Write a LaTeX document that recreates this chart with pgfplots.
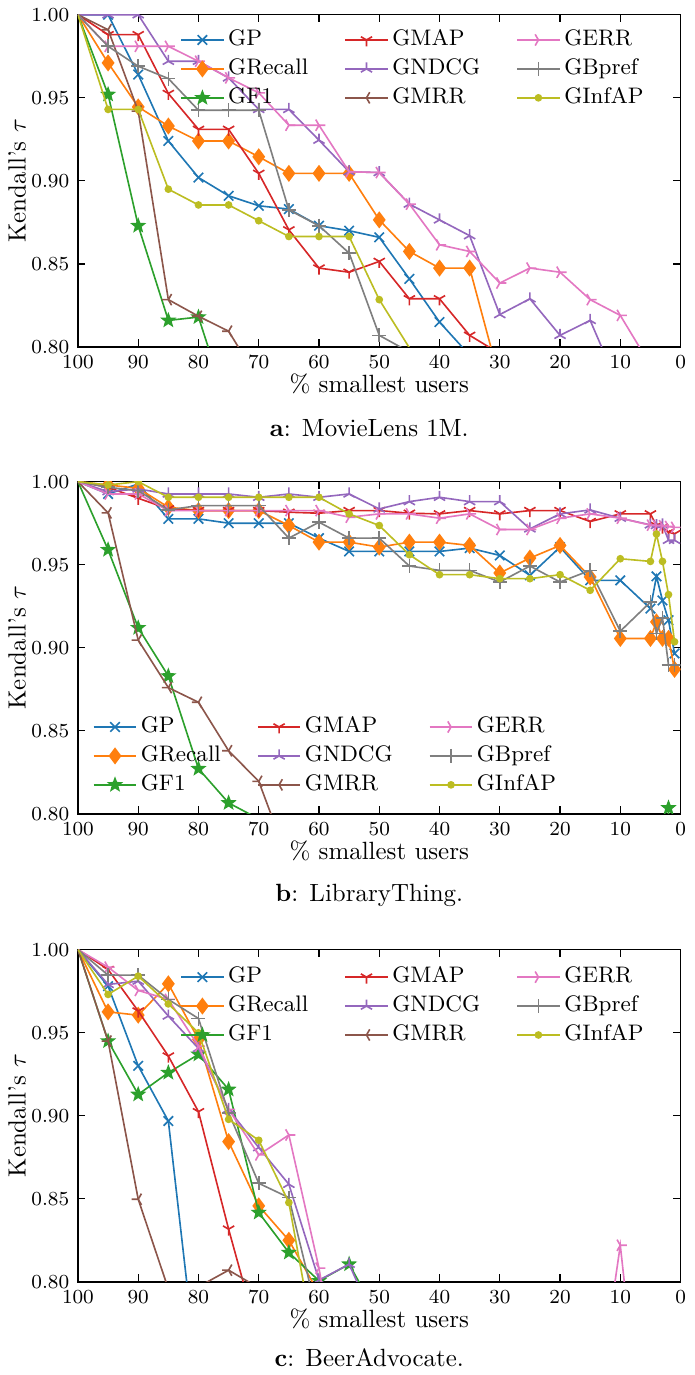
\documentclass[border=0pt]{standalone}
\usepackage{pgfplots}
\pgfplotsset{compat=1.18}
\usetikzlibrary{plotmarks}
\definecolor{cGP}{HTML}{1F77B4}
\definecolor{cGRecall}{HTML}{FF7F0E}
\definecolor{cGF1}{HTML}{2CA02C}
\definecolor{cGMAP}{HTML}{D62728}
\definecolor{cGNDCG}{HTML}{9467BD}
\definecolor{cGMRR}{HTML}{8C564B}
\definecolor{cGERR}{HTML}{E377C2}
\definecolor{cGBpref}{HTML}{7F7F7F}
\definecolor{cGInfAP}{HTML}{BCBD22}
\pgfdeclareplotmark{tridown}{%
  \pgfpathmoveto{\pgfqpoint{0pt}{0pt}}\pgfpathlineto{\pgfqpoint{0pt}{-\pgfplotmarksize}}%
  \pgfpathmoveto{\pgfqpoint{0pt}{0pt}}\pgfpathlineto{\pgfqpoint{0.866\pgfplotmarksize}{0.5\pgfplotmarksize}}%
  \pgfpathmoveto{\pgfqpoint{0pt}{0pt}}\pgfpathlineto{\pgfqpoint{-0.866\pgfplotmarksize}{0.5\pgfplotmarksize}}%
  \pgfusepathqstroke}
\pgfdeclareplotmark{triup}{%
  \pgfpathmoveto{\pgfqpoint{0pt}{0pt}}\pgfpathlineto{\pgfqpoint{0pt}{\pgfplotmarksize}}%
  \pgfpathmoveto{\pgfqpoint{0pt}{0pt}}\pgfpathlineto{\pgfqpoint{0.866\pgfplotmarksize}{-0.5\pgfplotmarksize}}%
  \pgfpathmoveto{\pgfqpoint{0pt}{0pt}}\pgfpathlineto{\pgfqpoint{-0.866\pgfplotmarksize}{-0.5\pgfplotmarksize}}%
  \pgfusepathqstroke}
\pgfdeclareplotmark{trileft}{%
  \pgfpathmoveto{\pgfqpoint{0pt}{0pt}}\pgfpathlineto{\pgfqpoint{-\pgfplotmarksize}{0pt}}%
  \pgfpathmoveto{\pgfqpoint{0pt}{0pt}}\pgfpathlineto{\pgfqpoint{0.5\pgfplotmarksize}{0.866\pgfplotmarksize}}%
  \pgfpathmoveto{\pgfqpoint{0pt}{0pt}}\pgfpathlineto{\pgfqpoint{0.5\pgfplotmarksize}{-0.866\pgfplotmarksize}}%
  \pgfusepathqstroke}
\pgfdeclareplotmark{triright}{%
  \pgfpathmoveto{\pgfqpoint{0pt}{0pt}}\pgfpathlineto{\pgfqpoint{\pgfplotmarksize}{0pt}}%
  \pgfpathmoveto{\pgfqpoint{0pt}{0pt}}\pgfpathlineto{\pgfqpoint{-0.5\pgfplotmarksize}{0.866\pgfplotmarksize}}%
  \pgfpathmoveto{\pgfqpoint{0pt}{0pt}}\pgfpathlineto{\pgfqpoint{-0.5\pgfplotmarksize}{-0.866\pgfplotmarksize}}%
  \pgfusepathqstroke}
\pgfdeclareplotmark{fstar}{%
  \pgfpathmoveto{\pgfpointpolar{90}{\pgfplotmarksize}}%
  \pgfpathlineto{\pgfpointpolar{126}{0.42\pgfplotmarksize}}%
  \pgfpathlineto{\pgfpointpolar{162}{\pgfplotmarksize}}%
  \pgfpathlineto{\pgfpointpolar{198}{0.42\pgfplotmarksize}}%
  \pgfpathlineto{\pgfpointpolar{234}{\pgfplotmarksize}}%
  \pgfpathlineto{\pgfpointpolar{270}{0.42\pgfplotmarksize}}%
  \pgfpathlineto{\pgfpointpolar{306}{\pgfplotmarksize}}%
  \pgfpathlineto{\pgfpointpolar{342}{0.42\pgfplotmarksize}}%
  \pgfpathlineto{\pgfpointpolar{18}{\pgfplotmarksize}}%
  \pgfpathlineto{\pgfpointpolar{54}{0.42\pgfplotmarksize}}%
  \pgfpathclose\pgfusepathqfillstroke}
\pgfplotsset{
  sGP/.style={color=cGP, mark=x, mark size=2.7pt},
  sGRecall/.style={color=cGRecall, mark=diamond*, mark size=2.9pt},
  sGF1/.style={color=cGF1, mark=fstar, mark size=2.5pt},
  sGMAP/.style={color=cGMAP, mark=tridown, mark size=2.6pt},
  sGNDCG/.style={color=cGNDCG, mark=triup, mark size=2.6pt},
  sGMRR/.style={color=cGMRR, mark=trileft, mark size=2.6pt},
  sGERR/.style={color=cGERR, mark=triright, mark size=2.6pt},
  sGBpref/.style={color=cGBpref, mark=+, mark size=2.8pt},
  sGInfAP/.style={color=cGInfAP, mark=*, mark size=1.2pt},
  kt/.style={
    width=241.6pt, height=133.2pt, scale only axis,
    xmin=0, xmax=100, ymin=0.8, ymax=1.0, x dir=reverse,
    xtick={0,10,20,30,40,50,60,70,80,90,100},
    ytick={0.80,0.85,0.90,0.95,1.00},
    yticklabel style={/pgf/number format/.cd, fixed, fixed zerofill, precision=2},
    tick label style={font=\footnotesize},
    tick align=inside, major tick length=3pt,
    axis line style={line width=0.6pt},
    every tick/.style={black, line width=0.5pt},
    clip marker paths=true,
    every axis plot/.append style={line width=0.65pt, mark phase=2, mark repeat=1, mark options={solid}},
    ylabel={Kendall's $\tau$},
    ylabel style={at={(axis description cs:-0.101,0.5)}, anchor=center},
    xlabel={\% smallest users},
    xlabel style={at={(axis description cs:0.5,-0.111)}, anchor=center},
    legend columns=3, transpose legend,
    legend cell align=left,
    legend style={draw=none, fill=none, font=\small, inner sep=0pt, row sep=1.1pt,
      nodes={inner sep=1.5pt, text height=6pt, text depth=1.5pt},
      /tikz/every even column/.append style={column sep=13pt}},
  },
}
\begin{document}
\begin{tikzpicture}
% ---------------- (a) MovieLens 1M ----------------
\begin{axis}[kt, name=a, at={(0pt,0pt)}, anchor=north west,
  legend style={at={(0.169,0.965)}, anchor=north west}]
\addplot[sGP] coordinates {(100,1)(95,1.0)(90,0.964)(85,0.924)(80,0.902)(75,0.891)(70,0.885)(65,0.883)(60,0.873)(55,0.870)(50,0.866)(45,0.841)(40,0.815)(35,0.795)(30,0.77)};
\addplot[sGRecall] coordinates {(100,1)(95,0.971)(90,0.9445)(85,0.933)(80,0.924)(75,0.924)(70,0.9145)(65,0.9045)(60,0.9045)(55,0.9045)(50,0.8765)(45,0.8575)(40,0.8475)(35,0.8475)(30,0.78)};
\addplot[sGF1] coordinates {(100,1)(95,0.952)(90,0.873)(85,0.816)(80,0.818)(75,0.762)};
\addplot[sGMAP] coordinates {(100,1)(95,0.988)(90,0.988)(85,0.9526)(80,0.931)(75,0.931)(70,0.9045)(65,0.8705)(60,0.8475)(55,0.845)(50,0.8515)(45,0.829)(40,0.829)(35,0.807)(30,0.796)};
\addplot[sGNDCG] coordinates {(100,1)(95,1.0)(90,1.0)(85,0.972)(80,0.972)(75,0.962)(70,0.943)(65,0.943)(60,0.9245)(55,0.9055)(50,0.905)(45,0.886)(40,0.8765)(35,0.867)(30,0.8195)(25,0.829)(20,0.807)(15,0.816)(10,0.774)};
\addplot[sGMRR] coordinates {(100,1)(95,0.991)(90,0.942)(85,0.8285)(80,0.8185)(75,0.8095)(70,0.780)};
\addplot[sGERR] coordinates {(100,1)(95,0.981)(90,0.981)(85,0.981)(80,0.972)(75,0.962)(70,0.953)(65,0.9335)(60,0.9335)(55,0.9055)(50,0.905)(45,0.886)(40,0.8615)(35,0.8575)(30,0.8385)(25,0.8475)(20,0.845)(15,0.8285)(10,0.819)(5,0.789)};
\addplot[sGBpref] coordinates {(100,1)(95,0.981)(90,0.969)(85,0.9616)(80,0.9425)(75,0.9425)(70,0.9425)(65,0.8825)(60,0.873)(55,0.8565)(50,0.807)(45,0.797)};
\addplot[sGInfAP] coordinates {(100,1)(95,0.943)(90,0.943)(85,0.895)(80,0.8855)(75,0.8855)(70,0.876)(65,0.8665)(60,0.8665)(55,0.8665)(50,0.8285)(45,0.7995)(40,0.77)};
\legend{GP,GRecall,GF1,GMAP,GNDCG,GMRR,GERR,GBpref,GInfAP}
\end{axis}
\node at ([xshift=-4pt,yshift=-32.4pt]a.south) {\textbf{a}: MovieLens 1M.};
% ---------------- (b) LibraryThing ----------------
\begin{axis}[kt, name=b, at={(0pt,-187.2pt)}, anchor=north west,
  legend style={at={(0.024,0.0465)}, anchor=south west}]
\addplot[sGP] coordinates {(100,1)(95,0.9926)(90,0.9986)(85,0.9776)(80,0.9776)(75,0.975)(70,0.975)(65,0.975)(60,0.966)(55,0.958)(50,0.958)(45,0.958)(40,0.958)(35,0.960)(30,0.9556)(25,0.9436)(20,0.9606)(15,0.9406)(10,0.9406)(5,0.9236)(4,0.943)(3,0.9285)(2,0.9166)(1,0.8966)};
\addplot[sGRecall] coordinates {(100,1)(95,0.998)(90,0.996)(85,0.9846)(80,0.9826)(75,0.9826)(70,0.9826)(65,0.9736)(60,0.9636)(55,0.9636)(50,0.9606)(45,0.9636)(40,0.9636)(35,0.9616)(30,0.945)(25,0.954)(20,0.9616)(15,0.9426)(10,0.9056)(5,0.9056)(4,0.9156)(3,0.9056)(2,0.9056)(1,0.887)};
\addplot[sGF1] coordinates {(100,1)(95,0.959)(90,0.912)(85,0.883)(80,0.8272)(75,0.8066)(70,0.797)(65,0.78)(60,0.76)(50,0.72)(40,0.70)(30,0.68)(20,0.66)(10,0.64)(5,0.62)(3,0.60)(2,0.8036)(1,0.60)};
\addplot[sGMAP] coordinates {(100,1)(95,0.9966)(90,0.990)(85,0.9836)(80,0.9826)(75,0.9826)(70,0.9826)(65,0.9816)(60,0.981)(55,0.9826)(50,0.9826)(45,0.981)(40,0.9806)(35,0.9826)(30,0.9806)(25,0.9826)(20,0.9826)(15,0.976)(10,0.9806)(5,0.9806)(4,0.9736)(3,0.9726)(2,0.9696)(1,0.9686)};
\addplot[sGNDCG] coordinates {(100,1)(95,0.994)(90,0.9956)(85,0.9926)(80,0.9926)(75,0.9926)(70,0.9906)(65,0.9926)(60,0.9906)(55,0.9926)(50,0.9836)(45,0.988)(40,0.9906)(35,0.988)(30,0.988)(25,0.9716)(20,0.9806)(15,0.983)(10,0.978)(5,0.974)(4,0.9736)(3,0.974)(2,0.9647)(1,0.9647)};
\addplot[sGMRR] coordinates {(100,1)(95,0.9812)(90,0.9046)(85,0.876)(80,0.8672)(75,0.838)(70,0.8196)(65,0.771)};
\addplot[sGERR] coordinates {(100,1)(95,0.9926)(90,0.9926)(85,0.9826)(80,0.9826)(75,0.9826)(70,0.9826)(65,0.9826)(60,0.9826)(55,0.9786)(50,0.9806)(45,0.9806)(40,0.978)(35,0.9806)(30,0.9712)(25,0.9712)(20,0.978)(15,0.9806)(10,0.978)(5,0.9738)(4,0.9735)(3,0.9735)(2,0.973)(1,0.9725)};
\addplot[sGBpref] coordinates {(100,1)(95,0.9966)(90,0.9946)(85,0.983)(80,0.9856)(75,0.9856)(70,0.9856)(65,0.966)(60,0.9756)(55,0.966)(50,0.966)(45,0.9492)(40,0.9466)(35,0.9466)(30,0.9396)(25,0.9492)(20,0.9396)(15,0.9466)(10,0.910)(5,0.9275)(4,0.9086)(3,0.9181)(2,0.8896)(1,0.8896)};
\addplot[sGInfAP] coordinates {(100,1)(95,0.998)(90,1.0)(85,0.9906)(80,0.9906)(75,0.9906)(70,0.9906)(65,0.9906)(60,0.9906)(55,0.9806)(50,0.9736)(45,0.956)(40,0.944)(35,0.944)(30,0.9416)(25,0.9416)(20,0.944)(15,0.9346)(10,0.9536)(5,0.952)(4,0.9685)(3,0.952)(2,0.932)(1,0.9036)};
\legend{GP,GRecall,GF1,GMAP,GNDCG,GMRR,GERR,GBpref,GInfAP}
\end{axis}
\node at ([xshift=-4pt,yshift=-32.8pt]b.south) {\textbf{b}: LibraryThing.};
% ---------------- (c) BeerAdvocate ----------------
\begin{axis}[kt, name=c, at={(0pt,-374.8pt)}, anchor=north west,
  legend style={at={(0.169,0.958)}, anchor=north west}]
\addplot[sGP] coordinates {(100,1)(95,0.978)(90,0.930)(85,0.8968)(80,0.738)};
\addplot[sGRecall] coordinates {(100,1)(95,0.9625)(90,0.9605)(85,0.9794)(80,0.9459)(75,0.8844)(70,0.8457)(65,0.825)(60,0.793)};
\addplot[sGF1] coordinates {(100,1)(95,0.9449)(90,0.9128)(85,0.9259)(80,0.9369)(75,0.9158)(70,0.8417)(65,0.8176)(60,0.8006)(55,0.8106)(50,0.778)};
\addplot[sGMAP] coordinates {(100,1)(95,0.988)(90,0.963)(85,0.9359)(80,0.9024)(75,0.8317)(70,0.766)};
\addplot[sGNDCG] coordinates {(100,1)(95,0.979)(90,0.981)(85,0.960)(80,0.9405)(75,0.9038)(70,0.8808)(65,0.8587)(60,0.801)(55,0.8106)(50,0.77)};
\addplot[sGMRR] coordinates {(100,1)(95,0.9449)(90,0.8497)(85,0.7957)(80,0.797)(75,0.807)(70,0.7964)(65,0.75)};
\addplot[sGERR] coordinates {(100,1)(95,0.9894)(90,0.9754)(85,0.970)(80,0.9419)(75,0.9038)(70,0.8764)(65,0.8884)(60,0.8082)(55,0.70)(50,0.69)(40,0.68)(30,0.69)(20,0.70)(15,0.697)(10,0.822)(5,0.656)};
\addplot[sGBpref] coordinates {(100,1)(95,0.9846)(90,0.9846)(85,0.970)(80,0.9585)(75,0.9018)(70,0.8593)(65,0.8507)(60,0.776)};
\addplot[sGInfAP] coordinates {(100,1)(95,0.973)(90,0.984)(85,0.9673)(80,0.9499)(75,0.8978)(70,0.8852)(65,0.8477)(60,0.748)};
\legend{GP,GRecall,GF1,GMAP,GNDCG,GMRR,GERR,GBpref,GInfAP}
\end{axis}
\node at ([xshift=-4pt,yshift=-30.4pt]c.south) {\textbf{c}: BeerAdvocate.};
\end{tikzpicture}
\end{document}
